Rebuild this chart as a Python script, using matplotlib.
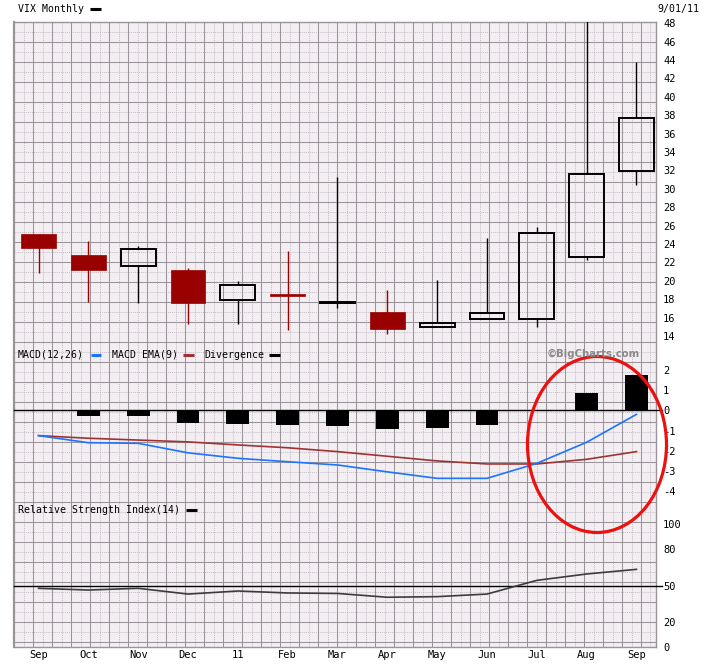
import numpy as np
import matplotlib.pyplot as plt
from matplotlib.patches import Ellipse

# VIX monthly, Sep 2010 .. Sep 2011
months = ['Sep', 'Oct', 'Nov', 'Dec', '11', 'Feb', 'Mar',
          'Apr', 'May', 'Jun', 'Jul', 'Aug', 'Sep']
opens = [25.1, 22.8, 21.6, 21.2, 17.9, 18.6, 17.55, 16.6, 15.0, 15.85, 15.9, 22.6, 31.9]
highs = [25.1, 24.3, 23.8, 21.4, 20.0, 23.2, 31.3, 19.0, 20.1, 24.7, 25.8, 48.5, 43.8]
lows = [20.8, 17.7, 17.6, 15.3, 15.3, 14.6, 17.0, 14.2, 14.95, 15.85, 15.0, 22.3, 30.4]
closes = [23.6, 21.2, 23.5, 17.6, 19.5, 18.35, 17.7, 14.75, 15.45, 16.5, 25.25, 31.6, 37.7]

macd = [-1.25, -1.6, -1.63, -2.1, -2.37, -2.54, -2.7, -3.04, -3.36, -3.36, -2.62, -1.58, -0.2]
macd_ema = [-1.25, -1.38, -1.47, -1.56, -1.71, -1.85, -2.04, -2.27, -2.5, -2.65, -2.65, -2.42, -2.04]
divergence = [0, -0.27, -0.27, -0.61, -0.66, -0.73, -0.78, -0.92, -0.86, -0.71, 0, 0.87, 1.74]

rsi = [47.7, 46.3, 47.7, 43.0, 45.5, 43.9, 43.5, 40.4, 40.9, 43.0, 54.2, 59.4, 63.2]

price_ticks = list(range(14, 49, 2))
macd_ticks = [2, 1, 0, -1, -2, -3, -4]
rsi_ticks = [100, 80, 50, 20, 0]

W, H = 720, 665
MONO = 'DejaVu Sans Mono'
FS = 7.1
plt.rcParams['font.family'] = MONO
plt.rcParams['font.size'] = FS
plt.rcParams['axes.unicode_minus'] = False

fig = plt.figure(figsize=(W / 100, H / 100), dpi=100)
fig.patch.set_facecolor('white')


def rect(x0, y0, x1, y1):
    return [x0 / W, 1 - y1 / H, (x1 - x0) / W, (y1 - y0) / H]


LEFT, RIGHT, TOP, BOTTOM = 14, 656, 22.3, 646.7

# background grid
bg = fig.add_axes(rect(LEFT, TOP, RIGHT, BOTTOM))
bg.set_xlim(LEFT, RIGHT)
bg.set_ylim(BOTTOM, TOP)
bg.set_facecolor('#f2eef2')
xs = np.arange(LEFT + 19, RIGHT, 19)
ys = np.arange(TOP + 20, BOTTOM, 20)
bg.vlines(xs - 9.5, TOP, BOTTOM, color='#c4bec4', lw=0.7, linestyles=(0, (1, 1)))
bg.vlines(RIGHT - 6, TOP, BOTTOM, color='#c4bec4', lw=0.7, linestyles=(0, (1, 1)))
bg.hlines(ys - 10, LEFT, RIGHT, color='#c4bec4', lw=0.7, linestyles=(0, (1, 1)))
bg.hlines(BOTTOM - 4.4, LEFT, RIGHT, color='#c4bec4', lw=0.7, linestyles=(0, (1, 1)))
bg.vlines(xs, TOP, BOTTOM, color='#9a949a', lw=0.75)
bg.hlines(ys, LEFT, RIGHT, color='#9a949a', lw=0.75)
bg.set_xticks([])
bg.set_yticks([])
for s in bg.spines.values():
    s.set_color('#9a949a')
    s.set_linewidth(1.0)
bg.spines['left'].set_linewidth(1.6)

x = np.arange(len(months))
XLIM = (-0.492, 12.392)


def overlay(r):
    ax = fig.add_axes(r)
    ax.set_facecolor('none')
    ax.set_xlim(*XLIM)
    for s in ax.spines.values():
        s.set_visible(False)
    ax.yaxis.tick_right()
    ax.tick_params(axis='y', length=0, pad=5, labelsize=7.5)
    ax.tick_params(axis='x', length=0, labelbottom=False)
    return ax


# price panel
ax1 = overlay(rect(LEFT, TOP, RIGHT, 345))
ax1.set_ylim(14 + (336 - 345) / 9.2, 14 + (336 - TOP) / 9.2)
ax1.set_yticks(price_ticks)
RED = '#990000'
for i in range(len(months)):
    o, h, l, c = opens[i], highs[i], lows[i], closes[i]
    lo, hi = min(o, c), max(o, c)
    if c < o:
        ax1.vlines(x[i], l, h, color=RED, lw=1.0)
        ax1.bar(x[i], hi - lo, 0.70, bottom=lo, color=RED, edgecolor=RED, lw=0.5, zorder=3)
    else:
        ax1.vlines(x[i], l, lo, color='black', lw=1.0)
        ax1.vlines(x[i], hi, h, color='black', lw=1.0)
        ax1.bar(x[i], hi - lo, 0.70, bottom=lo, facecolor='none', edgecolor='black', lw=1.4, zorder=3)

# MACD panel
ax2 = overlay(rect(LEFT, 345, RIGHT, 505))
ax2.set_ylim(-(505 - 410.3) / 20.25, (410.3 - 345) / 20.25)
ax2.set_yticks(macd_ticks)
ax2.axhline(0, color='black', lw=1.0, xmax=1.01, clip_on=False)
ax2.bar(x, divergence, 0.46, color='black', zorder=3)
ax2.plot(x, macd_ema, color='#a03232', lw=1.2, zorder=4)
ax2.plot(x, macd, color='#1c74ff', lw=1.2, zorder=4)

# RSI panel
ax3 = overlay(rect(LEFT, 505, RIGHT, BOTTOM))
ax3.set_ylim(0, (BOTTOM - 505) / 1.224)
ax3.set_yticks(rsi_ticks)
ax3.axhline(50, color='black', lw=1.0, xmax=1.01, clip_on=False)
ax3.plot(x, rsi, color='#3c3c3c', lw=1.2, zorder=4)
ax3.set_xticks(x)
ax3.set_xticklabels(months)
ax3.tick_params(axis='x', labelbottom=True, pad=2.5, labelsize=7.5)


# titles and legends
def ftext(px, py, s, size=FS, **kw):
    fig.text(px / W, 1 - py / H, s, va='center', fontsize=size, **kw)


def fdash(px0, px1, py, color, lw=2.2):
    fig.add_artist(plt.Line2D([px0 / W, px1 / W], [1 - py / H, 1 - py / H],
                              color=color, lw=lw, solid_capstyle='butt'))


ftext(18, 9, 'VIX Monthly')
fdash(90, 101, 9, 'black')
ftext(657, 9, '9/01/11')

ftext(18, 354.7, 'MACD(12,26)')
fdash(91, 101, 354.7, '#1c74ff')
ftext(112, 354.7, 'MACD EMA(9)')
fdash(183, 194, 354.7, '#a03232')
ftext(204, 354.7, 'Divergence')
fdash(269, 280, 354.7, 'black')
ftext(547, 354.3, '\u00a9BigCharts.com', size=7.3, family='DejaVu Sans',
      fontweight='bold', color='#8a8a8a')

ftext(18, 509.7, 'Relative Strength Index(14)')
fdash(186, 197, 509.7, 'black')

# red ellipse annotation
top = fig.add_axes([0, 0, 1, 1])
top.set_facecolor('none')
top.set_xlim(0, W)
top.set_ylim(H, 0)
top.axis('off')
top.add_patch(Ellipse((597, 444.5), 139, 176, fill=False, edgecolor='#ee0f0f', lw=2.3))

fig.savefig('out.png', dpi=100)
